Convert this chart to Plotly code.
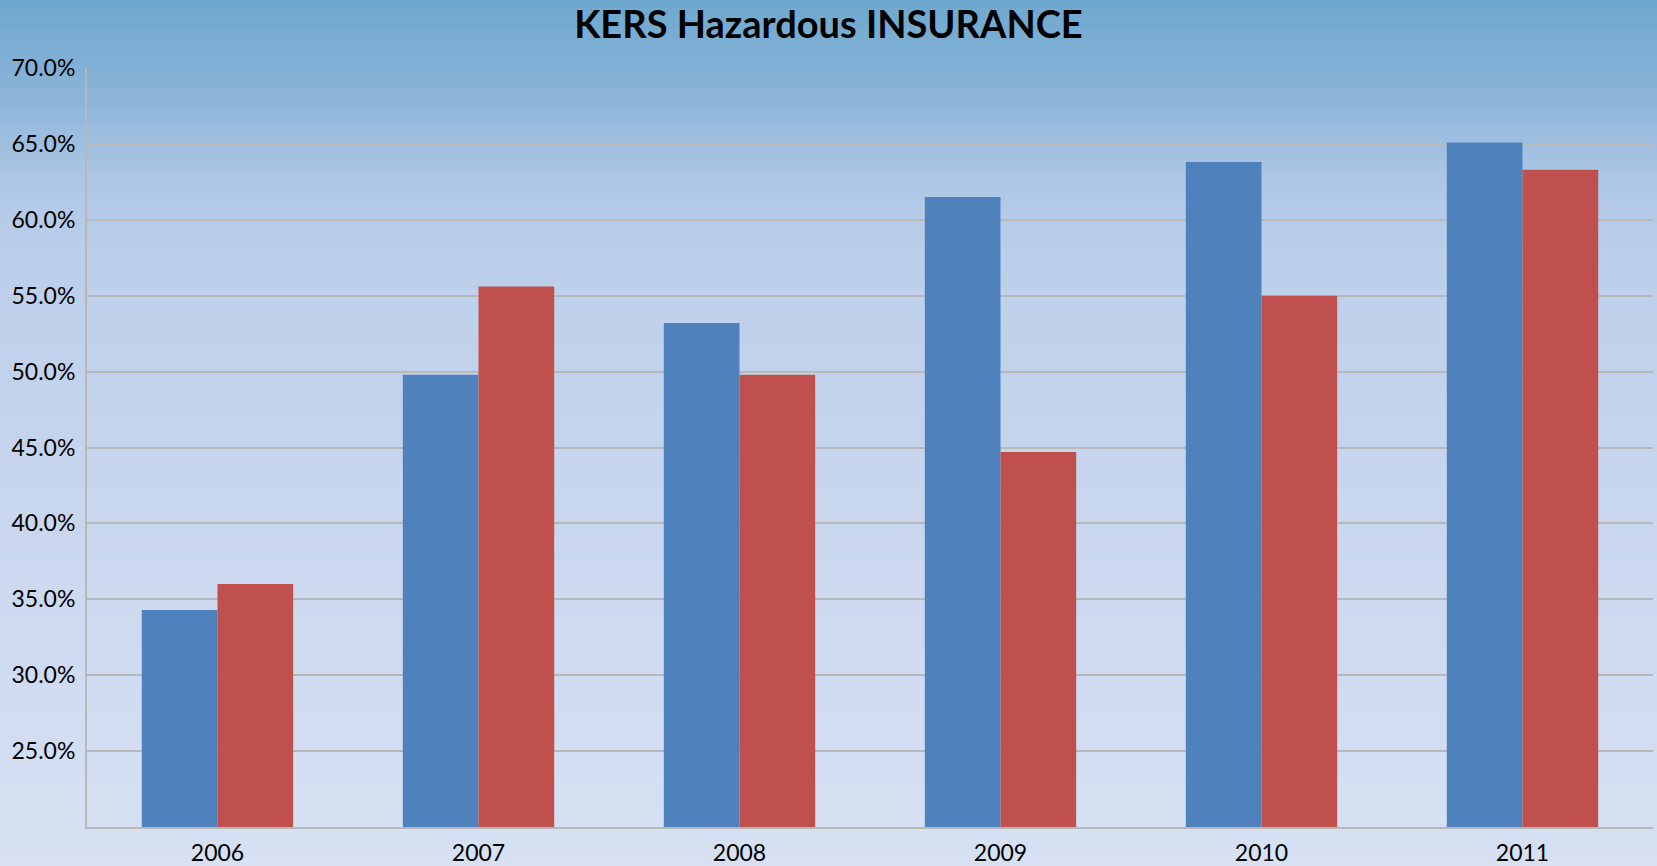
import plotly.graph_objects as go

years = ["2006", "2007", "2008", "2009", "2010", "2011"]
series_a = [34.3, 49.8, 53.2, 61.5, 63.8, 65.1]
series_b = [36.0, 55.6, 49.8, 44.7, 55.0, 63.3]
y_ticks = [25, 30, 35, 40, 45, 50, 55, 60, 65, 70]
y_tick_text = ["25.0%", "30.0%", "35.0%", "40.0%", "45.0%", "50.0%", "55.0%", "60.0%", "65.0%", "70.0%"]

W, H = 1657, 866
ML, MR, MT, MB = 87, 4, 68, 39
PH = H - MT - MB

fig = go.Figure()
fig.add_trace(go.Bar(x=years, y=series_a, marker=dict(color="#4f81bd", line=dict(width=0)), name="A"))
fig.add_trace(go.Bar(x=years, y=series_b, marker=dict(color="#c0504d", line=dict(width=0)), name="B"))

# vertical gradient background
stops = [(0, (110, 168, 206)), (90, (137, 179, 216)), (180, (174, 199, 230)),
         (260, (188, 207, 234)), (500, (200, 214, 238)), (866, (215, 225, 243))]

def col_at(yp):
    for (y0, c0), (y1, c1) in zip(stops[:-1], stops[1:]):
        if y0 <= yp <= y1:
            t = (yp - y0) / (y1 - y0)
            return tuple(round(a + (b - a) * t) for a, b in zip(c0, c1))
    return stops[-1][1]

shapes = []
n = 120
step = H / n
for i in range(n):
    ytop = i * step
    ybot = (i + 1) * step + 0.8
    c = col_at(ytop + step / 2)
    shapes.append(dict(type="rect", xref="paper", yref="paper",
                       x0=-ML / (W - ML - MR) - 0.01, x1=1 + MR / (W - ML - MR) + 0.01,
                       y0=(H - MB - ybot) / PH, y1=(H - MB - ytop) / PH,
                       fillcolor="rgb(%d,%d,%d)" % c, line=dict(width=0), layer="below"))

fig.update_layout(
    width=W, height=H,
    margin=dict(l=ML, r=MR, t=MT, b=MB, autoexpand=False),
    paper_bgcolor="#d7e1f3",
    plot_bgcolor="rgba(0,0,0,0)",
    shapes=shapes,
    showlegend=False,
    barmode="group",
    bargap=0.42,
    bargroupgap=0,
    title=dict(text="<b>KERS Hazardous INSURANCE</b>", x=0.5, xanchor="center",
               y=1 - 25 / H, yanchor="middle",
               font=dict(family="Lato", size=38, color="#000000")),
    font=dict(family="Lato", size=23, color="#000000"),
)
fig.update_xaxes(showgrid=False, showline=True, linecolor="#b8b8b8", linewidth=2,
                 ticks="", ticklabelstandoff=4, automargin=False,
                 tickfont=dict(size=23, family="Lato"))
fig.update_yaxes(range=[20, 70], tickvals=y_ticks, ticktext=y_tick_text,
                 showgrid=True, gridcolor="#b8b8b8", gridwidth=2,
                 showline=True, linecolor="#b8b8b8", linewidth=2,
                 zeroline=False, ticks="", ticklabelstandoff=5, automargin=False,
                 tickfont=dict(size=23, family="Lato"))

fig.write_html("out.html", config={"displayModeBar": False},
               post_script="document.body.style.margin='0';document.body.style.overflow='hidden';")
